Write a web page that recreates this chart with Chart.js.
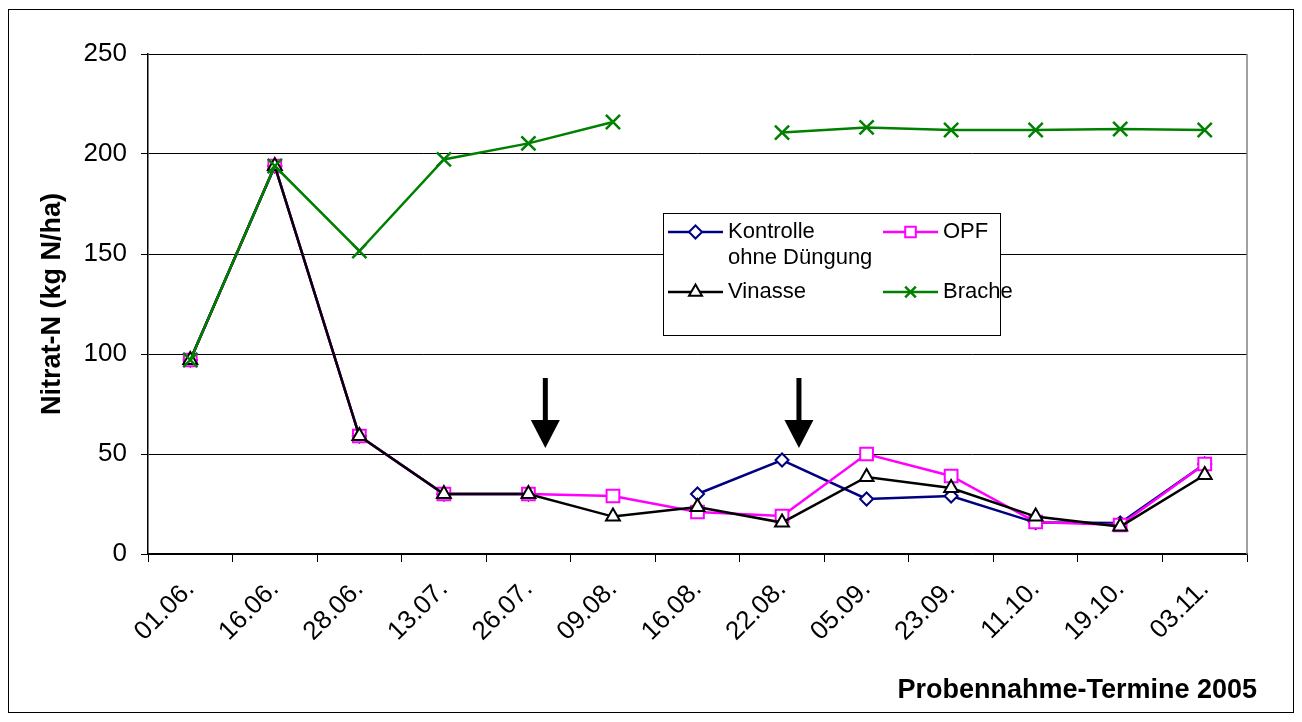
<!DOCTYPE html>
<html>
<head>
<meta charset="utf-8">
<title>Nitrat-N 2005</title>
<script src="https://cdn.jsdelivr.net/npm/chart.js@4.4.1/dist/chart.umd.min.js"></script>
<style>
  body { margin: 0; background: #fff; }
  #wrap { width: 1302px; height: 722px; }
</style>
</head>
<body>
<div id="wrap"><canvas id="nitratChart" width="1302" height="722"></canvas></div>
<script>
// Probennahme-Termine 2005
const dates = ['01.06.', '16.06.', '28.06.', '13.07.', '26.07.', '09.08.', '16.08.',
               '22.08.', '05.09.', '23.09.', '11.10.', '19.10.', '03.11.'];

// Nitrat-N (kg N/ha), null = no sample
const kontrolle = [97, 194, 59, 30, 30, null, 30, 47, 27.5, 29, 15.7, 15.5, 45];
const opf       = [97, 194, 59, 30, 30, 29, 21, 19, 50, 39, 16, 14.5, 45];
const vinasse   = [97, 194, 59, 30, 30, 18.7, 23.5, 15.7, 38.5, 33, 18.7, 13.7, 39.5];
const brache    = [97, 194, 151.5, 197.3, 205.3, 216, null, 210.7, 213.3, 212, 212, 212.5, 212];

const seriesNames = [['Kontrolle', 'ohne Düngung'], 'OPF', 'Vinasse', 'Brache'];
const xTitle = 'Probennahme-Termine 2005';
const yTitle = 'Nitrat-N (kg N/ha)';

// y axis range
const yMin = 0, yMax = 250, yStep = 50;

// fertilisation arrows (category position, value from -> value to)
const arrowPositions = [4.2, 7.2];
const arrowFrom = 88, arrowTo = 53;

const FONT = '"Liberation Sans", Arial, sans-serif';

// white page, outer frame, right plot edge and x axis title
const framePlugin = {
    id: 'frame',
    beforeDraw(chart) {
        const ctx = chart.ctx;
        ctx.save();
        ctx.fillStyle = '#fff';
        ctx.fillRect(0, 0, chart.width, chart.height);
        ctx.strokeStyle = '#000';
        ctx.lineWidth = 1;
        ctx.strokeRect(8.5, 9.5, 1285, 703);
        ctx.restore();
    },
    afterDraw(chart) {
        const a = chart.chartArea;
        const ctx = chart.ctx;
        ctx.save();
        ctx.strokeStyle = '#808080';
        ctx.lineWidth = 1.5;
        ctx.beginPath();
        ctx.moveTo(a.right, a.top);
        ctx.lineTo(a.right, a.bottom);
        ctx.stroke();

        // Excel puts the axis title a little past the plot edge
        ctx.fillStyle = '#000';
        ctx.font = 'bold 27px ' + FONT;
        ctx.textAlign = 'right';
        ctx.textBaseline = 'middle';
        ctx.fillText(xTitle, a.right + 10, 691);
        ctx.restore();
    }
};

// black arrows marking the fertiliser applications
const arrowPlugin = {
    id: 'arrows',
    afterDatasetsDraw(chart) {
        const xs = chart.scales.x, ys = chart.scales.y;
        const ctx = chart.ctx;
        const headH = 28, headW = 29, shaftW = 5;
        ctx.save();
        ctx.fillStyle = '#000';
        arrowPositions.forEach(pos => {
            const x = xs.getPixelForValue(pos);
            const yTop = ys.getPixelForValue(arrowFrom);
            const yTip = ys.getPixelForValue(arrowTo);
            ctx.fillRect(x - shaftW / 2, yTop, shaftW, yTip - yTop - headH + 1);
            ctx.beginPath();
            ctx.moveTo(x - headW / 2, yTip - headH);
            ctx.lineTo(x + headW / 2, yTip - headH);
            ctx.lineTo(x, yTip);
            ctx.closePath();
            ctx.fill();
        });
        ctx.restore();
    }
};

// boxed legend inside the plot area, two columns
const legendPlugin = {
    id: 'boxLegend',
    afterDatasetsDraw(chart) {
        const ctx = chart.ctx;
        const box = { x: 663.5, y: 213.5, w: 337, h: 122 };
        ctx.save();
        ctx.fillStyle = '#fff';
        ctx.fillRect(box.x, box.y, box.w, box.h);
        ctx.strokeStyle = '#000';
        ctx.lineWidth = 1;
        ctx.strokeRect(box.x, box.y, box.w, box.h);

        const slots = [[668, 232], [883, 232], [668, 292], [883, 292]];
        chart.data.datasets.forEach((ds, i) => {
            const [sx, sy] = slots[i];
            ctx.strokeStyle = ds.borderColor;
            ctx.lineWidth = 2.5;
            ctx.beginPath();
            ctx.moveTo(sx, sy);
            ctx.lineTo(sx + 55, sy);
            ctx.stroke();

            ctx.strokeStyle = ds.pointBorderColor;
            ctx.fillStyle = ds.pointBackgroundColor;
            ctx.lineWidth = ds.pointBorderWidth;
            Chart.helpers.drawPoint(ctx, {
                pointStyle: ds.pointStyle,
                radius: ds.legendRadius,
                borderWidth: ds.pointBorderWidth
            }, sx + 27.5, sy);

            ctx.fillStyle = '#000';
            ctx.font = '22px ' + FONT;
            ctx.textBaseline = 'middle';
            ctx.textAlign = 'left';
            const lines = Array.isArray(seriesNames[i]) ? seriesNames[i] : [seriesNames[i]];
            lines.forEach((t, k) => ctx.fillText(t, sx + 60, sy + k * 26));
        });
        ctx.restore();
    }
};

function series(label, data, color, style, radius, bw, order) {
    return {
        label: label,
        data: data,
        borderColor: color,
        borderWidth: 2.5,
        pointStyle: style,
        pointRadius: radius,
        pointHoverRadius: radius,
        pointBorderColor: color,
        pointBackgroundColor: '#fff',
        pointBorderWidth: bw,
        legendRadius: Math.min(radius, 7.5),
        spanGaps: false,
        tension: 0,
        order: order
    };
}

const ctx = document.getElementById('nitratChart');
new Chart(ctx, {
    type: 'line',
    data: {
        labels: dates,
        datasets: [
            series(seriesNames[0].join(' '), kontrolle, '#000080', 'rectRot', 6.5, 2, 3),
            series(seriesNames[1], opf, '#FF00FF', 'rect', 9, 2, 2),
            series(seriesNames[2], vinasse, '#000000', 'triangle', 8, 2, 1),
            series(seriesNames[3], brache, '#008000', 'crossRot', 10, 2.5, 0)
        ]
    },
    options: {
        responsive: false,
        animation: false,
        devicePixelRatio: 1,
        layout: { padding: { top: 54, right: 55, bottom: 0, left: 0 } },
        plugins: {
            legend: { display: false },
            tooltip: { enabled: false }
        },
        scales: {
            x: {
                type: 'category',
                offset: true,
                grid: {
                    offset: true,
                    drawOnChartArea: false,
                    drawTicks: true,
                    tickLength: 8,
                    color: '#000'
                },
                border: { color: '#000', width: 1.5 },
                ticks: {
                    color: '#000',
                    font: { family: FONT, size: 26 },
                    minRotation: 45,
                    maxRotation: 45,
                    autoSkip: false,
                    padding: 12
                },
                title: { display: false },
                afterFit(scale) { scale.height = 168; }
            },
            y: {
                min: yMin,
                max: yMax,
                grid: {
                    color: '#000',
                    lineWidth: 1,
                    tickLength: 7
                },
                border: { color: '#000', width: 1.5 },
                ticks: {
                    stepSize: yStep,
                    color: '#000',
                    font: { family: FONT, size: 26 },
                    padding: 14
                },
                title: {
                    display: true,
                    text: yTitle,
                    color: '#000',
                    font: { family: FONT, size: 27, weight: 'bold' },
                    padding: { top: 36, bottom: 0 }
                },
                afterFit(scale) { scale.width = 148; }
            }
        }
    },
    plugins: [framePlugin, arrowPlugin, legendPlugin]
});
</script>
</body>
</html>
